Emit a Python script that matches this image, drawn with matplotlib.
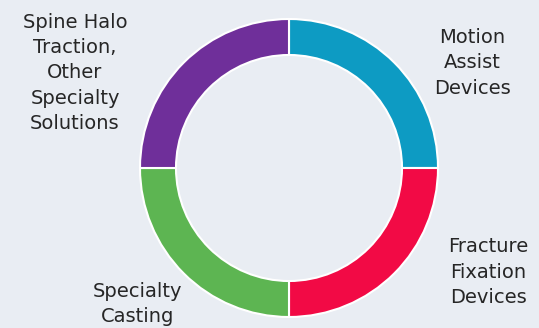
import numpy as np
import matplotlib
matplotlib.use("Agg")
import matplotlib.pyplot as plt

# segments, clockwise from the top
labels = ["Motion\nAssist\nDevices", "Fracture\nFixation\nDevices",
          "Specialty\nCasting", "Spine Halo\nTraction,\nOther\nSpecialty\nSolutions"]
values = [25, 25, 25, 25]
colors = ["#0d9bc3", "#f20a45", "#5db552", "#6f2f9a"]
# label centres in pixels (x, y from top)
label_pos = [(472, 63), (488, 272), (138, 304), (75, 73)]

W, H = 539, 328
fig = plt.figure(figsize=(W/100, H/100), dpi=100)
fig.patch.set_facecolor("#e9edf3")
ax = fig.add_axes([0, 0, 1, 1])
ax.set_facecolor("#e9edf3")
ax.axis("off")

ax.pie(values, colors=colors, startangle=90, counterclock=False,
       center=(289, H - 168), radius=149,
       wedgeprops=dict(width=36, edgecolor="white", linewidth=1.5))
ax.set_xlim(0, W)
ax.set_ylim(0, H)
ax.set_aspect("equal")

for lab, (x, y) in zip(labels, label_pos):
    ax.text(x, H - y, lab, ha="center", va="center", fontsize=14,
            color="#262626", linespacing=1.42, family="DejaVu Sans")

fig.savefig("out.png", dpi=100, facecolor=fig.get_facecolor())
